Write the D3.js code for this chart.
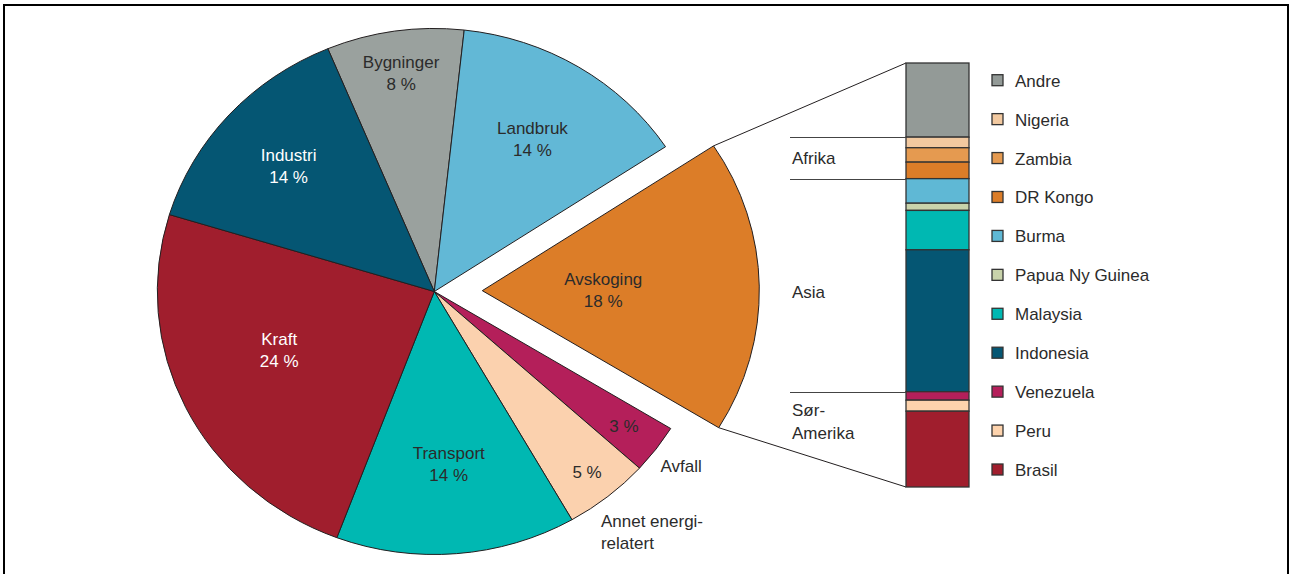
<!DOCTYPE html>
<html>
<head>
<meta charset="utf-8">
<script src="https://cdn.jsdelivr.net/npm/d3@7"></script>
<style>
  html, body { margin: 0; padding: 0; background: #fff; }
  svg { display: block; }
  text { font-family: "Liberation Sans", Arial, sans-serif; font-size: 17px; fill: #2b2b2b; }
</style>
</head>
<body>
<svg id="chart" width="1291" height="574"></svg>
<script>
// pie: sources of emissions (percent)
var sectors = ['Bygninger', 'Landbruk', 'Avskoging', 'Avfall', 'Annet energi-relatert', 'Transport', 'Kraft', 'Industri'];
var sectorValues = [8, 14, 18, 3, 5, 14, 24, 14];
var sectorColors = ['#9aa19e', '#62b8d6', '#dc7d28', '#b41f5a', '#fbd1ae', '#00b8b2', '#a01e2d', '#055673'];

// stacked bar: deforestation by country (share of Avskoging, percent)
var countries = ['Andre', 'Nigeria', 'Zambia', 'DR Kongo', 'Burma', 'Papua Ny Guinea', 'Malaysia', 'Indonesia', 'Venezuela', 'Peru', 'Brasil'];
var countryValues = [17.5, 2.5, 3.4, 3.9, 5.8, 1.7, 9.3, 33.5, 2.0, 2.6, 17.9];
var countryColors = ['#939a97', '#f2c9a0', '#e59a50', '#dc7d28', '#5fb8d5', '#c9d3ab', '#00b8b2', '#055673', '#b41f5a', '#fdd3ad', '#a01e2d'];

var regions = ['Afrika', 'Asia', 'Sør-Amerika'];
var regionFirst = ['Nigeria', 'Burma', 'Venezuela'];
var regionLast = ['DR Kongo', 'Indonesia', 'Brasil'];

var svg = d3.select('#chart');

// frame (no bottom edge)
svg.append('path')
  .attr('d', 'M4,574V5H1288V574')
  .style('fill', 'none')
  .style('stroke', '#000')
  .style('stroke-width', 2);

var cx = 434.3, cy = 291.5;
var r = 263, kx = 277 / 263;
var explode = 48;
var start = -22.6 * Math.PI / 180;

var pie = d3.pie().sort(null).value(function(d) { return d; })
  .startAngle(start).endAngle(start + 2 * Math.PI);
var arcs = pie(sectorValues);
var arc = d3.arc().innerRadius(0).outerRadius(r);

function pt(a, f, ox, oy) {
  return [(ox || cx) + Math.sin(a) * r * f * kx, (oy || cy) - Math.cos(a) * r * f];
}
function offsetOf(d) {
  if (sectors[d.index] != 'Avskoging') { return [0, 0]; }
  var m = (d.startAngle + d.endAngle) / 2;
  return [Math.sin(m) * explode, -Math.cos(m) * explode];
}

var slices = svg.append('g').attr('class', 'pie');
slices.selectAll('path')
  .data(arcs)
  .enter().append('path')
  .attr('transform', function(d) {
    var o = offsetOf(d);
    return 'translate(' + (cx + o[0]) + ',' + (cy + o[1]) + ') scale(' + kx + ',1)';
  })
  .attr('d', arc)
  .attr('vector-effect', 'non-scaling-stroke')
  .style('fill', function(d) { return sectorColors[d.index]; })
  .style('stroke', '#231f20')
  .style('stroke-width', 1);

// label placement inside slices (fraction of radius, plus small nudges)
var labelR = { 'Bygninger': 0.84, 'Landbruk': 0.68, 'Avskoging': 0.61, 'Avfall': 0.855,
  'Annet energi-relatert': 0.88, 'Transport': 0.65, 'Kraft': 0.6, 'Industri': 0.71 };
var labelNudge = { 'Kraft': [-6, -11], 'Transport': [0, 2], 'Avskoging': [0, 1] };
var whiteText = { 'Kraft': 1, 'Industri': 1 };

var labels = svg.append('g').attr('class', 'labels');
arcs.forEach(function(d) {
  var name = sectors[d.index];
  var m = (d.startAngle + d.endAngle) / 2;
  var p = pt(m, labelR[name]);
  var n = labelNudge[name] || [0, 0];
  var lines = (name == 'Avfall' || name == 'Annet energi-relatert')
    ? [sectorValues[d.index] + ' %']
    : [name, sectorValues[d.index] + ' %'];
  var t = labels.append('text')
    .attr('text-anchor', 'middle')
    .style('fill', whiteText[name] ? '#ffffff' : '#2b2b2b');
  lines.forEach(function(s, i) {
    t.append('tspan')
      .attr('x', p[0] + n[0])
      .attr('y', p[1] + n[1] + (i - (lines.length - 1) / 2) * 22 + 6)
      .text(s);
  });
});

// outside labels for the two small slices
var avfall = arcs[sectors.indexOf('Avfall')];
var pa = pt(avfall.endAngle, 1);
labels.append('text')
  .attr('x', pa[0] + 21).attr('y', pa[1] + 4)
  .text('Avfall');
var annet = arcs[sectors.indexOf('Annet energi-relatert')];
var pb = pt(annet.endAngle, 1);
var at = labels.append('text');
at.append('tspan').attr('x', pb[0] + 29).attr('y', pb[1] + 7).text('Annet energi-');
at.append('tspan').attr('x', pb[0] + 29).attr('y', pb[1] + 29).text('relatert');

// stacked bar
var total = d3.sum(countryValues);
var y = d3.scaleLinear().domain([0, total]).range([63, 487]);
var barX = 906, barW = 63;
var cum = 0;
var stack = countryValues.map(function(v, i) {
  var s = { name: countries[i], y0: cum, y1: cum + v, color: countryColors[i] };
  cum += v;
  return s;
});

// connector lines from the exploded slice to the bar
var av = arcs[sectors.indexOf('Avskoging')];
var ao = offsetOf(av);
var c1 = pt(av.startAngle, 1, cx + ao[0], cy + ao[1]);
var c2 = pt(av.endAngle, 1, cx + ao[0], cy + ao[1]);
svg.append('g').selectAll('line')
  .data([[c1, [barX, y(0)]], [c2, [barX, y(total)]]])
  .enter().append('line')
  .attr('x1', function(d) { return d[0][0]; })
  .attr('y1', function(d) { return d[0][1]; })
  .attr('x2', function(d) { return d[1][0]; })
  .attr('y2', function(d) { return d[1][1]; })
  .style('stroke', '#231f20')
  .style('stroke-width', 1);

svg.append('g').selectAll('rect')
  .data(stack)
  .enter().append('rect')
  .attr('x', barX)
  .attr('y', function(d) { return y(d.y0); })
  .attr('width', barW)
  .attr('height', function(d) { return y(d.y1) - y(d.y0); })
  .style('fill', function(d) { return d.color; })
  .style('stroke', '#333')
  .style('stroke-width', 1.3);

// region brackets
var byName = {};
stack.forEach(function(s) { byName[s.name] = s; });
var regionDy = { 'Afrika': 0, 'Asia': 6.5, 'Sør-Amerika': -18 };
var rg = svg.append('g').attr('class', 'regions');
var cuts = regionFirst.map(function(c) { return byName[c].y0; });
rg.selectAll('line')
  .data(cuts)
  .enter().append('line')
  .attr('x1', 790).attr('x2', barX)
  .attr('y1', function(d) { return Math.round(y(d)) + 0.5; })
  .attr('y2', function(d) { return Math.round(y(d)) + 0.5; })
  .style('stroke', '#444')
  .style('stroke-width', 1);
regions.forEach(function(name, i) {
  var mid = (y(byName[regionFirst[i]].y0) + y(byName[regionLast[i]].y1)) / 2 + regionDy[name];
  var parts = name == 'Sør-Amerika' ? ['Sør-', 'Amerika'] : [name];
  var t = rg.append('text');
  parts.forEach(function(s, j) {
    t.append('tspan')
      .attr('x', 792)
      .attr('y', mid + (j - (parts.length - 1) / 2) * 23 + 6)
      .text(s);
  });
});

// legend
var ly = d3.scalePoint().domain(countries).range([80.7, 470]);
var legend = svg.append('g').attr('class', 'legend')
  .selectAll('g')
  .data(stack)
  .enter().append('g')
  .attr('transform', function(d) { return 'translate(992,' + ly(d.name) + ')'; });
legend.append('rect')
  .attr('x', 0).attr('y', -6)
  .attr('width', 11).attr('height', 11)
  .style('fill', function(d) { return d.color; })
  .style('stroke', '#333')
  .style('stroke-width', 1.3);
legend.append('text')
  .attr('x', 23).attr('y', 6)
  .text(function(d) { return d.name; });
</script>
</body>
</html>
